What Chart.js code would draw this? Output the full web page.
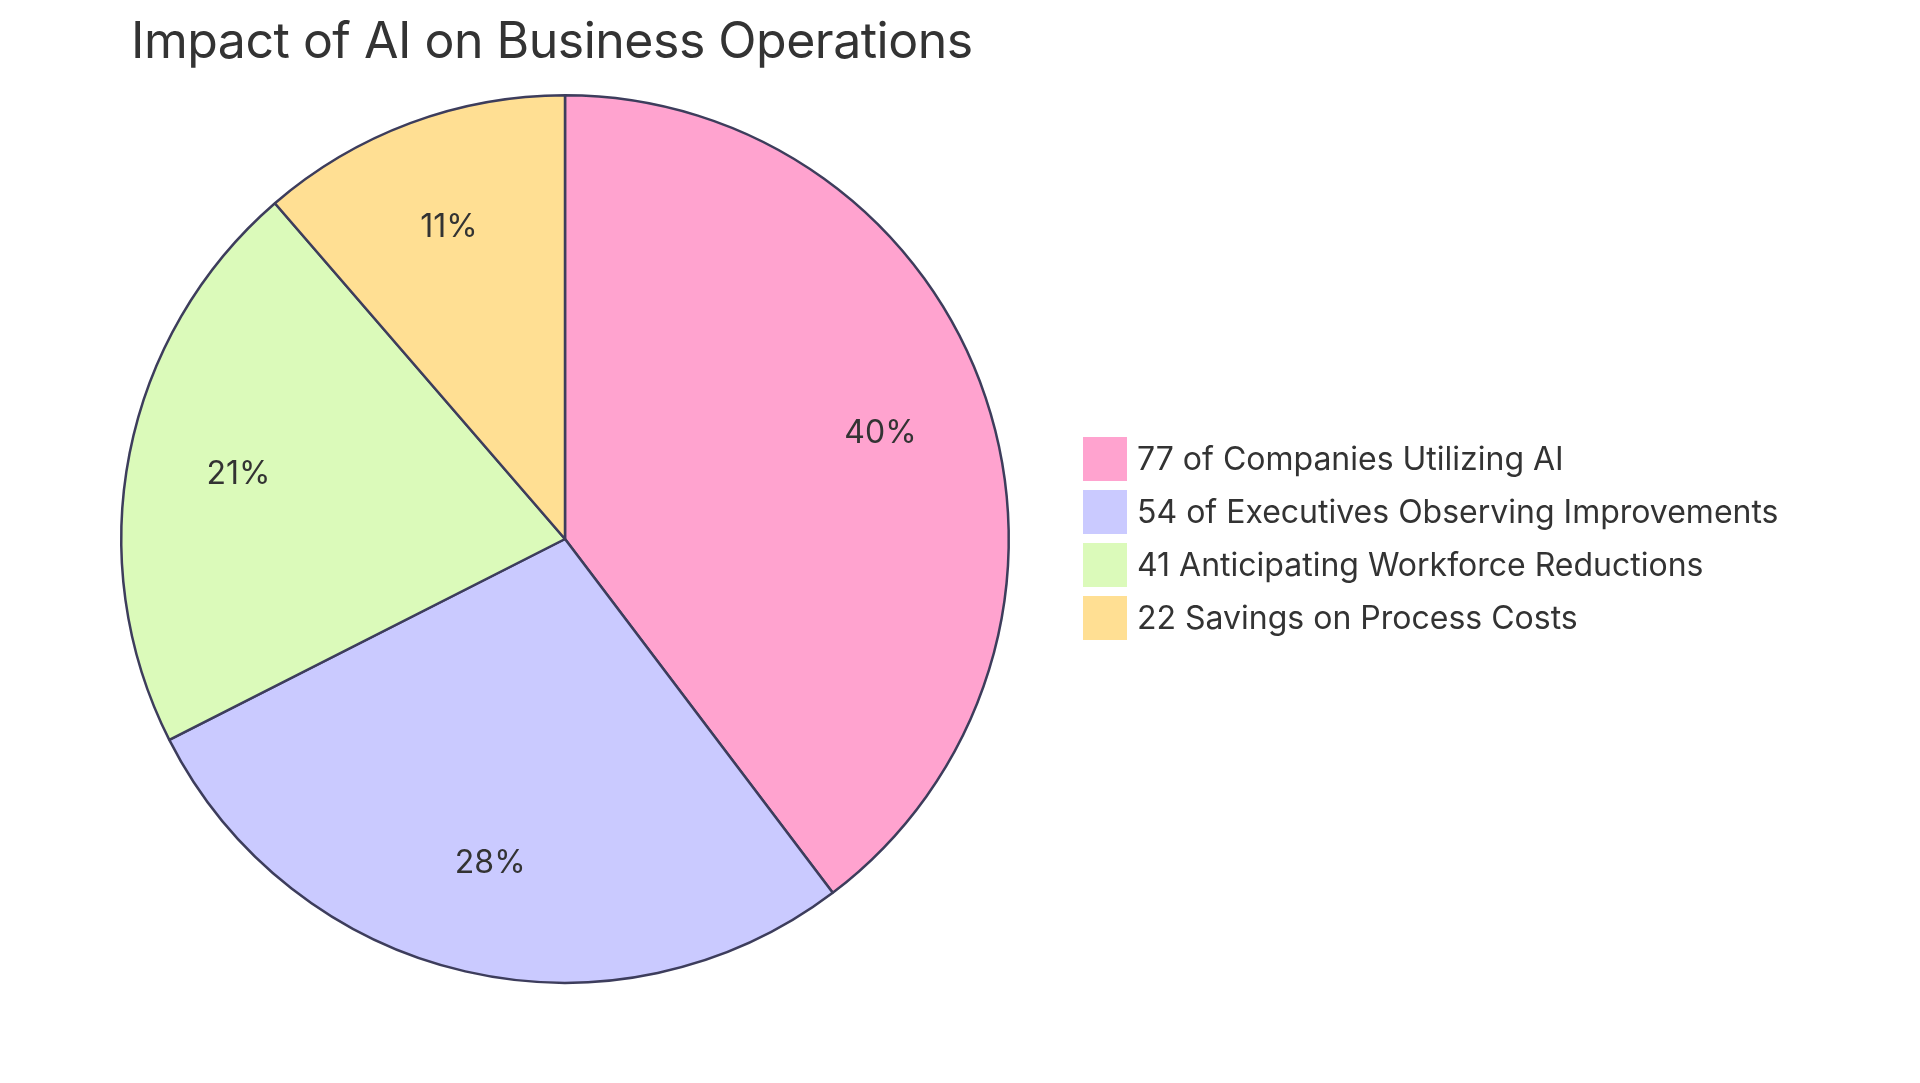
<!DOCTYPE html>
<html><head><meta charset="utf-8">
<script src="https://cdn.jsdelivr.net/npm/chart.js@4"></script>
<style>
html,body{margin:0;padding:0;background:#fff;width:1920px;height:1083px;overflow:hidden;font-family:Inter,"Open Sans",sans-serif;}
#wrap{position:absolute;left:0;top:0;width:1920px;height:1083px;}
#title{position:absolute;left:131px;top:10px;font-size:50px;color:#333;white-space:nowrap;letter-spacing:-0.5px;}
#legend{position:absolute;left:1083px;top:432px;font-size:32px;color:#333;}
.row{display:flex;align-items:center;height:53px;}
.sw{width:44px;height:44px;margin-right:10px;}
</style></head><body>
<div id="wrap"><canvas id="c" width="1920" height="1083"></canvas></div>
<div id="title">Impact of AI on Business Operations</div>
<div id="legend"></div>
<script>
const categories = ["77 of Companies Utilizing AI","54 of Executives Observing Improvements","41 Anticipating Workforce Reductions","22 Savings on Process Costs"];
const values = [77,54,41,22];
const colors = ["#FFA3CF","#CACAFF","#DBFABA","#FFDF93"];

const leg = document.getElementById('legend');
categories.forEach((c,i)=>{
  const r=document.createElement('div');r.className='row';
  r.innerHTML='<div class="sw" style="background:'+colors[i]+'"></div><span>'+c+'</span>';
  leg.appendChild(r);
});

const pctPlugin = {
  id:'pct',
  afterDatasetsDraw(chart){
    const ctx=chart.ctx; const meta=chart.getDatasetMeta(0);
    const total=values.reduce((a,b)=>a+b,0);
    ctx.save();ctx.font='32px Inter, "Open Sans", sans-serif';ctx.fillStyle='#333';
    ctx.textAlign='center';ctx.textBaseline='middle';
    meta.data.forEach((arc,i)=>{
      const a=(arc.startAngle+arc.endAngle)/2, r=arc.outerRadius*0.75;
      ctx.fillText(Math.round(values[i]/total*100)+'%', arc.x+Math.cos(a)*r, arc.y+Math.sin(a)*r);
    });
    ctx.restore();
  }
};

new Chart(document.getElementById('c'),{
  type:'pie',
  data:{labels:categories,datasets:[{data:values,backgroundColor:colors,borderColor:'#3d3d5c',borderWidth:2.5}]},
  options:{responsive:false,animation:false,
    layout:{padding:{left:120,right:910,top:94,bottom:99}},
    plugins:{legend:{display:false},tooltip:{enabled:false}}},
  plugins:[pctPlugin]
});
</script>
</body></html>
